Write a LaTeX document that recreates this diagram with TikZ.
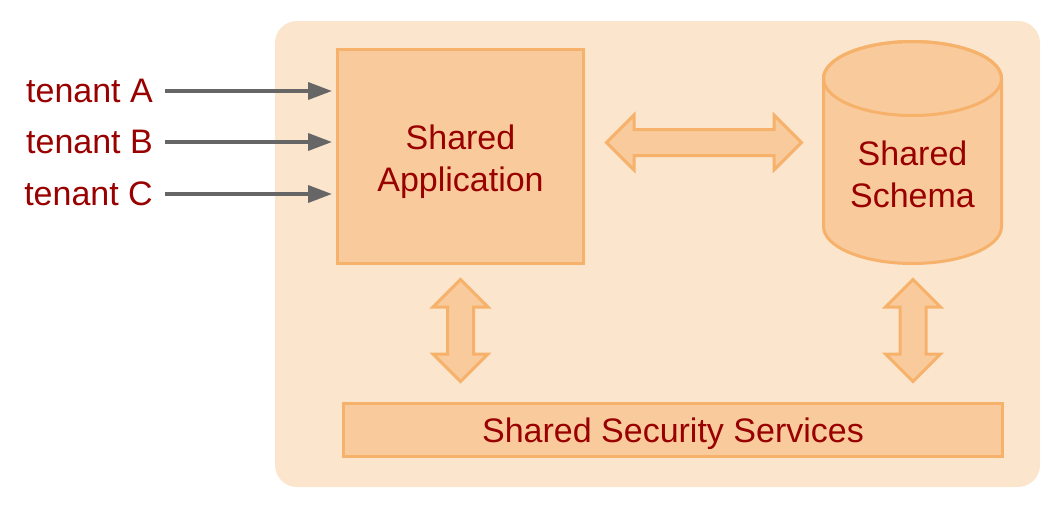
\documentclass[tikz,border=0pt]{standalone}
\usepackage{fontspec}
\setmainfont{Liberation Sans}
\usetikzlibrary{shapes.arrows,arrows.meta}
\definecolor{panelfill}{HTML}{FCE5CD}
\definecolor{boxfill}{HTML}{F9CB9C}
\definecolor{boxline}{HTML}{F6B26B}
\definecolor{labelred}{HTML}{990000}
\definecolor{arrowgray}{HTML}{666666}
\begin{document}
\begin{tikzpicture}[
        x = 1pt, y = -1pt,
        every node/.style       = {font=\fontsize{34}{42}\selectfont, text=labelred},
        sharedbox/.style        = {draw=boxline, fill=boxfill, line width=3pt},
        fatarrow/.style         = {double arrow, draw=boxline, fill=boxfill, line width=3pt,
                                   inner xsep=0pt, inner ysep=11.5pt, double arrow head extend=14.5pt,
                                   double arrow tip angle=90},
        tenantarrow/.style      = {draw=arrowgray, line width=3.5pt, -{Triangle[length=24pt,width=17pt]}},
      ]
        \useasboundingbox (0,0) rectangle (1054,507);
        \fill[panelfill, rounded corners=22pt] (275,21) rectangle (1040,487);

        \node[sharedbox, minimum width=246pt, minimum height=214pt] (app) at (460.5,156.5) {};
        \node[align=center] (apptext) at (460.5,162) {Shared\\Application};
        \node[sharedbox, minimum width=659pt, minimum height=53pt] (security) at (673,430) {};
        \node (sectext) at (673,434) {Shared Security Services};

        % database cylinder
        \path[sharedbox] (823.5,78.5) -- (823.5,226.5) arc[start angle=180, end angle=360, x radius=89pt, y radius=37pt]
            -- (1001.5,78.5) arc[start angle=0, end angle=180, x radius=89pt, y radius=37pt] -- cycle;
        \draw[draw=boxline, line width=3pt] (912.5,78.5) ellipse [x radius=89pt, y radius=37pt];
        \node[align=center] (schema) at (912.5,174) {Shared\\Schema};

        \node[fatarrow, minimum height=195pt] (appschema) at (704,142.5) {};
        \node[fatarrow, minimum height=102pt, rotate=90] (appsec) at (460.5,330.5) {};
        \node[fatarrow, minimum height=102pt, rotate=90] (schemasec) at (913,330.5) {};

        \foreach \name/\ypos in {A/91, B/142, C/194}{
            \node[anchor=east, inner sep=0pt] (tenant\name) at (153,\ypos) {tenant \name};
            \coordinate (in\name) at (app.west |- 0,\ypos);
            \draw[tenantarrow] ([xshift=12pt]tenant\name.east) -- ([xshift=-4pt]in\name);
        }
    \end{tikzpicture}
\end{document}
